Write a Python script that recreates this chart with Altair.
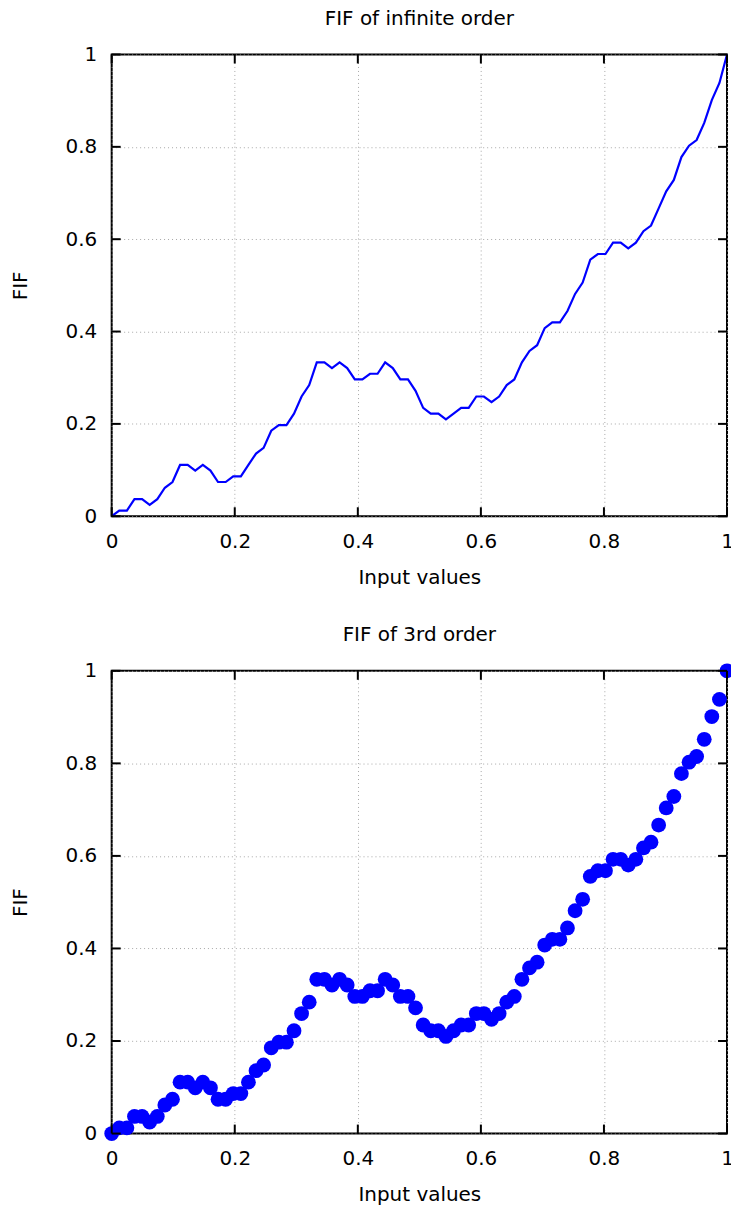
import altair as alt
import pandas as pd

# Input grid (k/81, k = 0..81) and the fractal interpolation function values
x_vals = [
    0.0, 0.0123, 0.0247, 0.0370, 0.0494, 0.0617, 0.0741, 0.0864, 0.0988, 0.1111,
    0.1235, 0.1358, 0.1481, 0.1605, 0.1728, 0.1852, 0.1975, 0.2099, 0.2222, 0.2346,
    0.2469, 0.2593, 0.2716, 0.2840, 0.2963, 0.3086, 0.3210, 0.3333, 0.3457, 0.3580,
    0.3704, 0.3827, 0.3951, 0.4074, 0.4198, 0.4321, 0.4444, 0.4568, 0.4691, 0.4815,
    0.4938, 0.5062, 0.5185, 0.5309, 0.5432, 0.5556, 0.5679, 0.5802, 0.5926, 0.6049,
    0.6173, 0.6296, 0.6420, 0.6543, 0.6667, 0.6790, 0.6914, 0.7037, 0.7160, 0.7284,
    0.7407, 0.7531, 0.7654, 0.7778, 0.7901, 0.8025, 0.8148, 0.8272, 0.8395, 0.8519,
    0.8642, 0.8765, 0.8889, 0.9012, 0.9136, 0.9259, 0.9383, 0.9506, 0.9630, 0.9753,
    0.9877, 1.0,
]
fif_vals = [
    0.0, 0.0123, 0.0123, 0.0370, 0.0370, 0.0247, 0.0370, 0.0617, 0.0741, 0.1111,
    0.1111, 0.0988, 0.1111, 0.0988, 0.0741, 0.0741, 0.0864, 0.0864, 0.1111, 0.1358,
    0.1481, 0.1852, 0.1975, 0.1975, 0.2222, 0.2593, 0.2840, 0.3333, 0.3333, 0.3210,
    0.3333, 0.3210, 0.2963, 0.2963, 0.3086, 0.3086, 0.3333, 0.3210, 0.2963, 0.2963,
    0.2716, 0.2346, 0.2222, 0.2222, 0.2099, 0.2222, 0.2346, 0.2346, 0.2593, 0.2593,
    0.2469, 0.2593, 0.2840, 0.2963, 0.3333, 0.3580, 0.3704, 0.4074, 0.4198, 0.4198,
    0.4444, 0.4815, 0.5062, 0.5556, 0.5679, 0.5679, 0.5926, 0.5926, 0.5802, 0.5926,
    0.6173, 0.6296, 0.6667, 0.7037, 0.7284, 0.7778, 0.8025, 0.8148, 0.8519, 0.9012,
    0.9383, 1.0,
]
tick_vals = [0, 0.2, 0.4, 0.6, 0.8, 1]

data = pd.DataFrame({"x": x_vals, "fif": fif_vals})
ticks = pd.DataFrame({"t": tick_vals})

W = 617
FONT = "DejaVu Sans"
BLUE = "#0000ff"
TICK_LEN = 9

x_scale = alt.Scale(domain=[0, 1], nice=False, zero=False)
y_scale = alt.Scale(domain=[0, 1], nice=False, zero=False)

x_axis = alt.Axis(
    values=tick_vals, format="~g", title="Input values", grid=True,
    ticks=False, domain=False, labelPadding=15, titlePadding=16,
    labelFlush=False,
)
y_axis = alt.Axis(
    values=tick_vals, format="~g", title="FIF", grid=True,
    ticks=False, domain=False, labelPadding=15, titlePadding=35,
)


def inward_ticks(h):
    """Tick marks drawn inside the frame on all four sides."""
    rule = alt.Chart(ticks).mark_rule(color="black", strokeWidth=2)
    xt = alt.X("t:Q", scale=x_scale, axis=x_axis)
    yt = alt.Y("t:Q", scale=y_scale, axis=y_axis)
    bottom = rule.encode(x=xt, y=alt.value(h), y2=alt.value(h - TICK_LEN))
    top = rule.encode(x=xt, y=alt.value(0), y2=alt.value(TICK_LEN))
    left = rule.encode(y=yt, x=alt.value(0), x2=alt.value(TICK_LEN))
    right = rule.encode(y=yt, x=alt.value(W), x2=alt.value(W - TICK_LEN))
    return [bottom, top, left, right]


def panel(main, title, h):
    return alt.layer(main, *inward_ticks(h)).properties(
        width=W, height=h,
        title=alt.Title(title, frame="group", offset=16),
    )


enc = dict(
    x=alt.X("x:Q", scale=x_scale, axis=x_axis),
    y=alt.Y("fif:Q", scale=y_scale, axis=y_axis),
)

line = alt.Chart(data).mark_line(color=BLUE, strokeWidth=2.2).encode(**enc)
dots = alt.Chart(data).mark_circle(color=BLUE, opacity=1, size=220).encode(**enc)

chart = alt.vconcat(
    panel(line, "FIF of infinite order", 463),
    panel(dots, "FIF of 3rd order", 464),
    spacing=36,
).properties(
    # the right edge trims the overhang of the last label and marker
    padding={"left": 9, "top": 6, "right": -5, "bottom": 0},
).configure_view(
    stroke="black", strokeWidth=2,
).configure_axis(
    labelFont=FONT, titleFont=FONT, labelFontSize=20, titleFontSize=20,
    labelColor="black", titleColor="black", titleFontWeight="normal",
    gridColor="#a8a8a8", gridDash=[1, 3], gridWidth=1,
).configure_title(
    font=FONT, fontSize=20, fontWeight="normal", color="black",
)

chart.save("out.html", embed_options={"renderer": "svg", "actions": False})
